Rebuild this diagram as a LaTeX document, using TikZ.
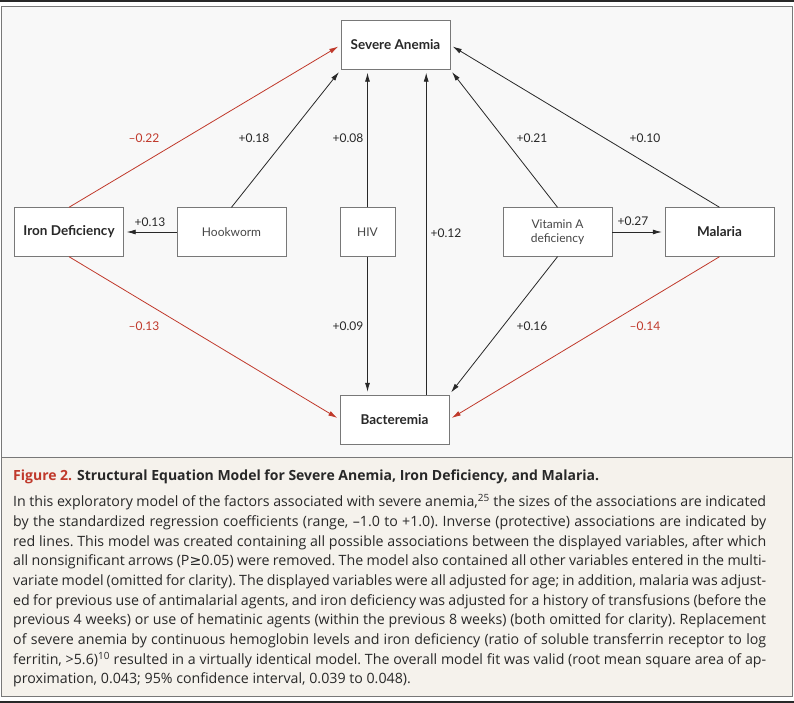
\documentclass[tikz,border=0pt]{standalone}
\usepackage{fontspec}
\setmainfont{Lato}
\newfontfamily\capfont{Open Sans}
\newfontfamily\symfont{DejaVu Sans}
\usetikzlibrary{arrows.meta,calc}
\definecolor{negred}{RGB}{192,57,43}
\definecolor{inkgray}{RGB}{40,40,40}
\definecolor{softink}{RGB}{70,70,70}
\definecolor{panelbg}{RGB}{248,248,248}
\definecolor{capbg}{RGB}{245,242,236}
\definecolor{framegray}{RGB}{120,120,120}
\tikzset{
  varbox/.style = {draw=framegray, fill=white, minimum width=109pt, minimum height=49pt,
    inner sep=2pt, align=center, text=softink, font=\fontsize{12}{14}\selectfont},
  outcome/.style = {varbox, text=inkgray, font=\fontsize{13.5}{14}\selectfont\bfseries},
  assoc/.style = {draw=inkgray, line width=0.8pt, -{Latex[length=9pt,width=5pt]}, shorten >=3pt},
  negassoc/.style = {assoc, draw=negred},
  coef/.style = {inner sep=1pt, text=inkgray, font=\fontsize{12}{14}\selectfont},
  negcoef/.style = {coef, text=negred}
}

\begin{document}
\begin{tikzpicture}[x=1pt,y=-1pt]
\useasboundingbox (0,0) rectangle (794,703);
% frame and panels
\fill[inkgray] (0,0) rectangle (794,2);
\draw[framegray, fill=panelbg] (1.5,6.5) rectangle (792.5,457.5);
\draw[framegray, fill=capbg] (1.5,457.5) rectangle (792.5,696);
\fill[inkgray] (0,701) rectangle (794,703);

% variables
\node [outcome] (anemia) at (395.5,45) {Severe Anemia};
\node [outcome] (iron) at (69,232) {Iron Deficiency};
\node [varbox] (hook) at (231.5,232) {Hookworm};
\node [varbox, minimum width=55pt] (hiv) at (367.5,232) {HIV};
\node [varbox] (vita) at (557.5,232) {Vitamin A\\deficiency};
\node [outcome] (malaria) at (719.5,232) {Malaria};
\node [outcome] (bact) at (394.5,419.5) {Bacteremia};
\coordinate (bup) at ($(bact.north east)+(-23,0)$);

% associations
\draw [negassoc] (iron.north) -- (anemia.west);
\draw [assoc] (hook.north) -- (anemia.south west);
\draw [assoc] (hiv.north) -- (hiv.north |- anemia.south);
\draw [assoc] (vita.north) -- (anemia.south east);
\draw [assoc] (malaria.north) -- (anemia.east);
\draw [assoc] (hook.west) -- (iron.east);
\draw [assoc] (vita.east) -- (malaria.west);
\draw [assoc] (bup) -- (bup |- anemia.south);
\draw [assoc] (hiv.south) -- (hiv.south |- bact.north);
\draw [negassoc] (iron.south) -- (bact.west);
\draw [assoc] (vita.south) -- (bact.north east);
\draw [negassoc] (malaria.south) -- (bact.east);

% coefficients
\node [negcoef] (c1) at (144,138) {--0.22};
\node [coef] (c2) at (254,138) {+0.18};
\node [coef] (c3) at (348,138) {+0.08};
\node [coef] (c4) at (532,138) {+0.21};
\node [coef] (c5) at (645,138) {+0.10};
\node [coef] (c6) at (150,222) {+0.13};
\node [coef] (c7) at (633,221) {+0.27};
\node [coef] (c8) at (446,233) {+0.12};
\node [negcoef] (c9) at (144,326) {--0.13};
\node [coef] (c10) at (348,326) {+0.09};
\node [coef] (c11) at (532,326) {+0.16};
\node [negcoef] (c12) at (645,326) {--0.14};

% caption
\node [anchor=west, inner sep=0pt, text=inkgray, font=\capfont\fontsize{14}{16}\selectfont\bfseries] (title) at (13,477)
  {\textcolor{negred}{Figure 2.} Structural Equation Model for Severe Anemia, Iron Deficiency, and Malaria.};
\node [anchor=north west, inner sep=0pt, text width=753pt, align=justify, text=inkgray,
  font=\capfont\fontsize{14.2}{19.7}\selectfont] (body) at (13,494)
  {\frenchspacing\hyphenpenalty=10000\tolerance=10000
  In this exploratory model of the factors associated with severe anemia,\textsuperscript{25} the sizes of the associations are indicated\linebreak
  by the standardized regression coefficients (range, –1.0 to +1.0). Inverse (protective) associations are indicated by\linebreak
  red lines. This model was created containing all possible associations between the displayed variables, after which\linebreak
  all nonsignificant arrows (P{\symfont ≥}0.05) were removed. The model also contained all other variables entered in the multi-\linebreak
  variate model (omitted for clarity). The displayed variables were all adjusted for age; in addition, malaria was adjust-\linebreak
  ed for previous use of antimalarial agents, and iron deficiency was adjusted for a history of transfusions (before the\linebreak
  previous 4 weeks) or use of hematinic agents (within the previous 8 weeks) (both omitted for clarity). Replacement\linebreak
  of severe anemia by continuous hemoglobin levels and iron deficiency (ratio of soluble transferrin receptor to log\linebreak
  ferritin, >5.6)\textsuperscript{10} resulted in a virtually identical model. The overall model fit was valid (root mean square area of ap-\linebreak
  proximation, 0.043; 95\% confidence interval, 0.039 to 0.048).};
\end{tikzpicture}
\end{document}
